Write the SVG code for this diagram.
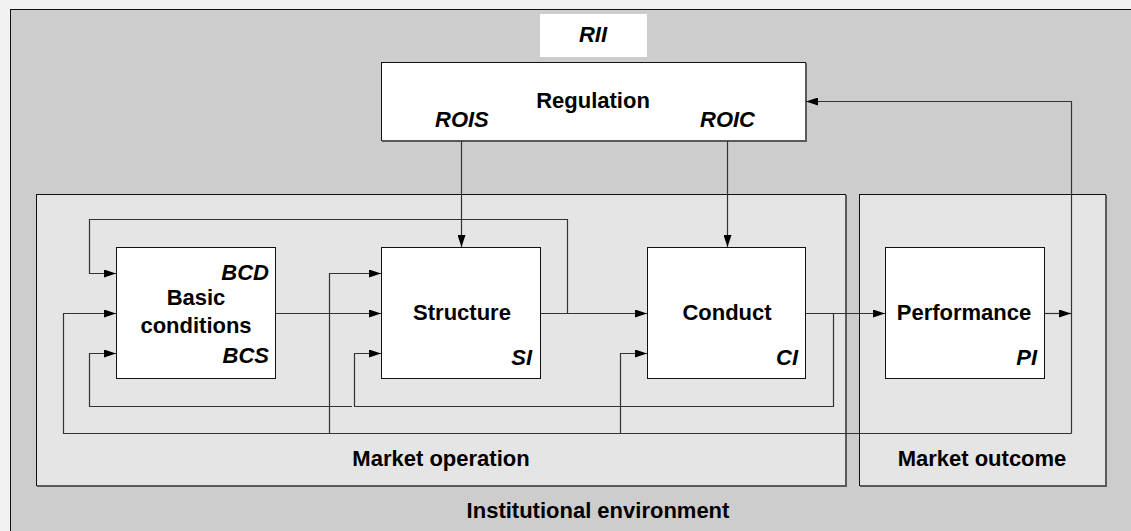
<svg xmlns="http://www.w3.org/2000/svg" width="1131" height="531" viewBox="0 0 1131 531">
  <defs>
    <marker id="arrow" viewBox="0 0 12 8" refX="12" refY="4" markerWidth="12" markerHeight="8" markerUnits="userSpaceOnUse" orient="auto">
      <path d="M0,0 L12,4 L0,8 Z" fill="#000"/>
    </marker>
    <style>
      .frame { stroke: #111; stroke-width: 1; }
      .shade { fill: none; stroke: #5a5a5a; stroke-width: 2; }
      .node { fill: #fff; stroke: #111; stroke-width: 1; }
      .lbl { font-family: "Liberation Sans", Arial, sans-serif; font-weight: bold; font-size: 22px; fill: #000; }
      .tag { font-family: "Liberation Sans", Arial, sans-serif; font-weight: bold; font-style: italic; font-size: 22px; fill: #000; }
      .mid { text-anchor: middle; }
      .end { text-anchor: end; }
      .wire { fill: none; stroke: #333; stroke-width: 1.2; }
    </style>
  </defs>

  <!-- page -->
  <rect x="0" y="0" width="1131" height="531" fill="#f2f2f2"/>

  <!-- institutional environment -->
  <g id="institutional-environment">
    <rect x="10.5" y="9.5" width="1130" height="530" fill="#cdcdcd" class="frame"/>
    <text x="598" y="518" class="lbl mid">Institutional environment</text>
  </g>

  <!-- market operation -->
  <g id="market-operation">
    <rect x="36.5" y="194.5" width="809" height="291" fill="#e5e5e5" class="frame"/>
    <path d="M846,195 V486 H37" class="shade"/>
    <text x="441" y="466" class="lbl mid">Market operation</text>
  </g>

  <!-- market outcome -->
  <g id="market-outcome">
    <rect x="859.5" y="194.5" width="246" height="291" fill="#e5e5e5" class="frame"/>
    <path d="M1106,195 V486 H860" class="shade"/>
    <text x="982" y="466" class="lbl mid">Market outcome</text>
  </g>

  <!-- RII tag -->
  <g id="rii">
    <rect x="540" y="14" width="107" height="43" fill="#fff"/>
    <text x="593" y="42" class="tag mid">RII</text>
  </g>

  <!-- regulation -->
  <g id="regulation">
    <rect x="381.5" y="62.5" width="424" height="78" class="node"/>
    <path d="M806,63 V141 H382" class="shade" stroke-width="1"/>
    <text x="593" y="108" class="lbl mid">Regulation</text>
    <text x="435" y="127" class="tag">ROIS</text>
    <text x="700" y="127" class="tag">ROIC</text>
  </g>

  <!-- basic conditions -->
  <g id="basic-conditions">
    <rect x="116.5" y="247.5" width="159" height="131" class="node"/>
    <text x="269" y="280" class="tag end">BCD</text>
    <text x="196" y="305" class="lbl mid">Basic</text>
    <text x="196" y="333" class="lbl mid">conditions</text>
    <text x="269" y="363" class="tag end">BCS</text>
  </g>

  <!-- structure -->
  <g id="structure">
    <rect x="381.5" y="247.5" width="159" height="131" class="node"/>
    <text x="462" y="320" class="lbl mid">Structure</text>
    <text x="532" y="365" class="tag end">SI</text>
  </g>

  <!-- conduct -->
  <g id="conduct">
    <rect x="647.5" y="247.5" width="158" height="131" class="node"/>
    <text x="727" y="320" class="lbl mid">Conduct</text>
    <text x="798" y="365" class="tag end">CI</text>
  </g>

  <!-- performance -->
  <g id="performance">
    <rect x="885.5" y="247.5" width="159" height="131" class="node"/>
    <text x="964" y="320" class="lbl mid">Performance</text>
    <text x="1037" y="365" class="tag end">PI</text>
  </g>

  <!-- connectors -->
  <g id="connectors">
    <!-- regulation to structure and conduct -->
    <path d="M461.5,141 V247" class="wire" marker-end="url(#arrow)"/>
    <path d="M727.5,141 V247" class="wire" marker-end="url(#arrow)"/>

    <!-- main chain -->
    <path d="M276,313.5 H381" class="wire" marker-end="url(#arrow)"/>
    <path d="M541,313.5 H647" class="wire" marker-end="url(#arrow)"/>
    <path d="M806,313.5 H885" class="wire" marker-end="url(#arrow)"/>
    <path d="M1045,313.5 H1071" class="wire" marker-end="url(#arrow)"/>

    <!-- structure feedback to basic conditions -->
    <path d="M567.5,313.5 V219.5 H89.5 V273.5 H116" class="wire" marker-end="url(#arrow)"/>

    <!-- conduct feedback to structure and basic conditions -->
    <path d="M833.5,313.5 V406.5 H354.5 V353.5 H381" class="wire" marker-end="url(#arrow)"/>
    <path d="M352,406.5 H89.5 V353.5 H116" class="wire" marker-end="url(#arrow)"/>

    <!-- performance feedback loop -->
    <path d="M1071.5,433.5 V101.5 H806" class="wire" marker-end="url(#arrow)"/>
    <path d="M1071.5,433.5 H63.5 V313.5 H116" class="wire" marker-end="url(#arrow)"/>
    <path d="M329.5,433.5 V273.5 H381" class="wire" marker-end="url(#arrow)"/>
    <path d="M620.5,433.5 V353.5 H647" class="wire" marker-end="url(#arrow)"/>
  </g>
</svg>
